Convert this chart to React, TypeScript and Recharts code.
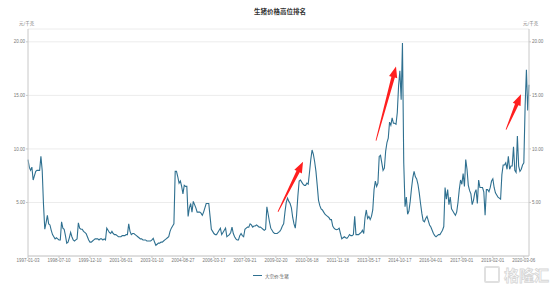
import React from 'react';
import {
  LineChart,
  Line,
  XAxis,
  YAxis,
  CartesianGrid,
  ReferenceLine,
} from 'recharts';

// date labels shown under the axis, one every SEG points
const tickDates = [
  '1997-01-03', '1998-07-10', '1999-12-10', '2001-06-01', '2003-01-10',
  '2004-08-27', '2006-03-17', '2007-09-21', '2009-02-20', '2010-06-18',
  '2011-11-18', '2013-05-17', '2014-10-17', '2016-04-01', '2017-09-01',
  '2019-02-01', '2020-03-06',
];
const SEG = 24;

// 大宗价:生猪 (元/千克)
const prices = [
  9.0, 8.3, 8.0, 8.3, 7.1, 7.5, 7.9, 8.0, 8.0, 8.0, 9.3, 8.0, 4.8, 2.5, 3.1, 3.8, 3.0, 2.9, 2.4, 2.0, 1.8, 1.6, 1.7, 1.6,
  1.5, 1.5, 3.2, 2.6, 2.5, 1.9, 1.2, 1.3, 1.7, 2.2, 1.8, 1.5, 1.4, 1.5, 1.6, 3.1, 2.6, 2.5, 2.5, 2.3, 2.2, 2.1, 1.8, 1.5,
  1.3, 1.3, 1.4, 1.5, 1.6, 1.6, 1.6, 1.5, 1.6, 1.6, 1.5, 1.6, 1.5, 2.6, 2.4, 2.2, 2.1, 2.3, 2.1, 2.0, 2.0, 1.9, 1.8, 1.8,
  1.8, 1.9, 1.9, 1.9, 2.0, 2.0, 3.0, 2.3, 2.0, 2.1, 2.1, 2.0, 1.9, 1.8, 1.7, 1.6, 1.6, 1.5, 1.5, 1.5, 1.4, 1.4, 1.4, 1.4,
  1.5, 1.65, 1.3, 1.0, 1.1, 1.2, 1.2, 1.3, 1.3, 1.4, 1.5, 1.6, 1.7, 1.8, 2.3, 2.6, 2.8, 3.0, 7.9, 7.9, 7.4, 6.8, 7.0, 6.5,
  5.8, 6.6, 6.5, 6.5, 3.7, 4.5, 4.9, 4.1, 5.1, 4.8, 4.5, 4.1, 4.1, 4.1, 4.0, 3.8, 4.1, 4.5, 4.9, 4.9, 4.9, 3.7, 2.5, 2.3,
  2.1, 2.0, 2.0, 2.2, 2.4, 2.6, 2.0, 2.2, 2.4, 2.6, 1.8, 1.9, 2.0, 2.2, 2.7, 2.1, 1.8, 1.6, 1.5, 1.5, 1.9, 2.1, 1.9, 1.8,
  2.5, 2.6, 2.7, 2.7, 3.0, 2.9, 2.7, 2.8, 2.8, 2.9, 2.8, 2.7, 2.7, 2.6, 2.5, 2.4, 2.5, 4.6, 3.9, 3.2, 2.6, 2.4, 2.2, 2.1,
  2.1, 2.1, 2.2, 2.3, 2.5, 2.8, 3.0, 4.1, 5.0, 5.4, 5.1, 4.9, 4.5, 3.6, 3.0, 2.6, 3.8, 5.6, 7.0, 7.1, 6.9, 6.7, 6.6, 6.6,
  6.8, 6.7, 7.8, 9.0, 9.9, 9.5, 8.8, 7.9, 6.6, 5.2, 4.7, 4.4, 4.3, 4.1, 3.9, 3.8, 3.7, 3.6, 3.4, 3.4, 2.8, 2.6, 2.5, 2.45,
  2.5, 2.6, 2.1, 1.6, 1.7, 1.8, 1.7, 1.65, 1.8, 2.0, 1.9, 1.9, 2.0, 3.7, 2.0, 2.0, 2.0, 2.1, 2.2, 2.4, 2.1, 3.6, 4.3, 3.5,
  3.7, 3.4, 3.7, 4.3, 6.2, 7.0, 6.5, 6.8, 9.3, 9.4, 8.7, 8.0, 8.2, 9.8, 10.6, 11.0, 12.5, 12.2, 12.9, 12.4, 12.4, 12.3, 13.4, 15.9,
  17.3, 14.6, 19.9, 8.7, 4.6, 5.5, 3.9, 4.2, 5.1, 6.3, 7.3, 7.9, 7.4, 7.2, 6.7, 5.9, 4.9, 4.0, 3.3, 3.2, 3.5, 3.7, 3.3, 2.9,
  2.7, 2.4, 2.1, 1.9, 1.8, 1.9, 2.0, 2.0, 2.2, 2.4, 2.75, 6.4, 5.3, 6.2, 4.8, 5.5, 4.4, 4.2, 4.0, 3.8, 4.1, 5.0, 6.2, 7.1,
  6.7, 7.7, 6.5, 9.0, 8.1, 6.6, 6.1, 5.8, 4.8, 5.2, 5.9, 6.2, 4.9, 7.1, 6.4, 6.4, 6.4, 6.0, 3.8, 6.2, 6.2, 6.0, 6.4, 7.0,
  7.2, 6.4, 5.9, 5.7, 5.5, 5.4, 5.3, 7.6, 8.5, 8.5, 8.7, 8.1, 9.3, 8.1, 8.4, 8.4, 10.2, 8.0, 7.8, 11.2, 8.4, 7.9, 8.1, 8.5,
  8.7, 14.0, 17.4, 13.6, 16.0,
];

const yTicks = [5, 10, 15, 20];

// red annotation arrows, [point index, price] for tail and tip
const arrowTails = [[193.6, 4.13], [269.5, 10.77], [370.2, 11.8]];
const arrowTips = [[213.0, 8.81], [285.0, 17.7], [381.8, 15.1]];

const LINE_COLOR = '#2f7090';
const AXIS_COLOR = '#c8c8c8';
const TEXT_COLOR = '#777';

const data = prices.map((v, i) => ({ i, price: v }));
const xTicks = tickDates.map((_, k) => k * SEG);

// tapered red arrow drawn between the two segment ends
const RedArrow = (props: any) => {
  const { x1, y1, x2, y2 } = props;
  if ([x1, y1, x2, y2].some((v) => v == null || isNaN(v))) return null;
  const dx = x2 - x1;
  const dy = y2 - y1;
  const len = Math.sqrt(dx * dx + dy * dy);
  const ux = dx / len;
  const uy = dy / len;
  const nx = -uy;
  const ny = ux;
  const head = 11;
  const bx = x2 - ux * head;
  const by = y2 - uy * head;
  const p = (x: number, y: number, w: number) => `${x + nx * w},${y + ny * w}`;
  const pts = [
    p(x1, y1, 0.4),
    p(bx, by, 1.8),
    p(bx, by, 4.2),
    `${x2},${y2}`,
    p(bx, by, -4.2),
    p(bx, by, -1.8),
    p(x1, y1, -0.4),
  ].join(' ');
  return <polygon points={pts} fill="#ff1f1f" />;
};

export default function App() {
  const fontFamily = '"Liberation Sans", "Noto Sans CJK SC", sans-serif';
  const cjk = '"Noto Sans CJK SC", sans-serif';
  return (
    <div style={{ position: 'absolute', left: 0, top: 0, width: 550, height: 286, overflow: 'hidden', background: '#fff', fontFamily }}>
      <div style={{ position: 'absolute', top: 6, left: 0, width: 560, textAlign: 'center', fontSize: 6.5, fontWeight: 'bold', color: '#333', fontFamily: cjk }}>
        生猪价格高位排名
      </div>
      <div style={{ position: 'absolute', top: 19.5, left: 19, fontSize: 4.5, color: TEXT_COLOR, fontFamily: cjk }}>元/千克</div>
      <div style={{ position: 'absolute', top: 19.5, left: 523, fontSize: 4.5, color: TEXT_COLOR, fontFamily: cjk }}>元/千克</div>

      <LineChart
        width={550}
        height={286}
        data={data}
        margin={{ top: 29, right: 0, bottom: 18, left: 0 }}
        style={{ fontFamily }}
      >
        <CartesianGrid vertical={false} stroke="#ececec" yAxisId="left" />
        <XAxis
          dataKey="i"
          type="number"
          domain={[0, prices.length - 1]}
          ticks={xTicks}
          tickFormatter={(v: number) => tickDates[Math.round(v / SEG)] ?? ''}
          interval={0}
          height={12}
          tick={{ fontSize: 4.5, fill: TEXT_COLOR }}
          tickSize={2}
          tickMargin={1}
          stroke={AXIS_COLOR}
        />
        <YAxis
          yAxisId="left"
          domain={[0, 21.2]}
          ticks={yTicks}
          tickFormatter={(v: number) => v.toFixed(2)}
          width={28}
          tick={{ fontSize: 4.5, fill: TEXT_COLOR }}
          tickSize={2}
          tickMargin={1}
          stroke={AXIS_COLOR}
        />
        <YAxis
          yAxisId="right"
          orientation="right"
          domain={[0, 21.2]}
          ticks={yTicks}
          tickFormatter={(v: number) => v.toFixed(2)}
          width={21}
          tick={{ fontSize: 4.5, fill: TEXT_COLOR }}
          tickSize={2}
          tickMargin={1}
          stroke={AXIS_COLOR}
        />
        <Line
          yAxisId="right"
          dataKey="price"
          stroke="none"
          dot={false}
          activeDot={false}
          legendType="none"
          isAnimationActive={false}
        />
        <Line
          yAxisId="left"
          type="linear"
          dataKey="price"
          stroke={LINE_COLOR}
          strokeWidth={1.1}
          dot={false}
          isAnimationActive={false}
        />
        {arrowTails.map((t, k) => (
          <ReferenceLine
            key={k}
            yAxisId="left"
            segment={[
              { x: t[0], y: t[1] },
              { x: arrowTips[k][0], y: arrowTips[k][1] },
            ]}
            shape={RedArrow}
            ifOverflow="visible"
          />
        ))}
      </LineChart>

      <div style={{ position: 'absolute', top: 272.5, left: 253, display: 'flex', alignItems: 'center', fontSize: 4.5, color: '#555', fontFamily: cjk }}>
        <span style={{ display: 'inline-block', width: 9, height: 1.5, background: LINE_COLOR, marginRight: 3 }} />
        大宗价:生猪
      </div>

      <div style={{ position: 'absolute', top: 266, left: 484, display: 'flex', alignItems: 'center', lineHeight: 1 }}>
        <span style={{ display: 'inline-block', width: 12, height: 13, border: '2px solid #e0e0e0', borderRadius: 2, marginRight: 4 }} />
        <span style={{ fontSize: 15, fontWeight: 'bold', WebkitTextStroke: '0.8px #d6d6d6', color: '#fff', fontFamily: cjk }}>格隆汇</span>
      </div>
    </div>
  );
}
